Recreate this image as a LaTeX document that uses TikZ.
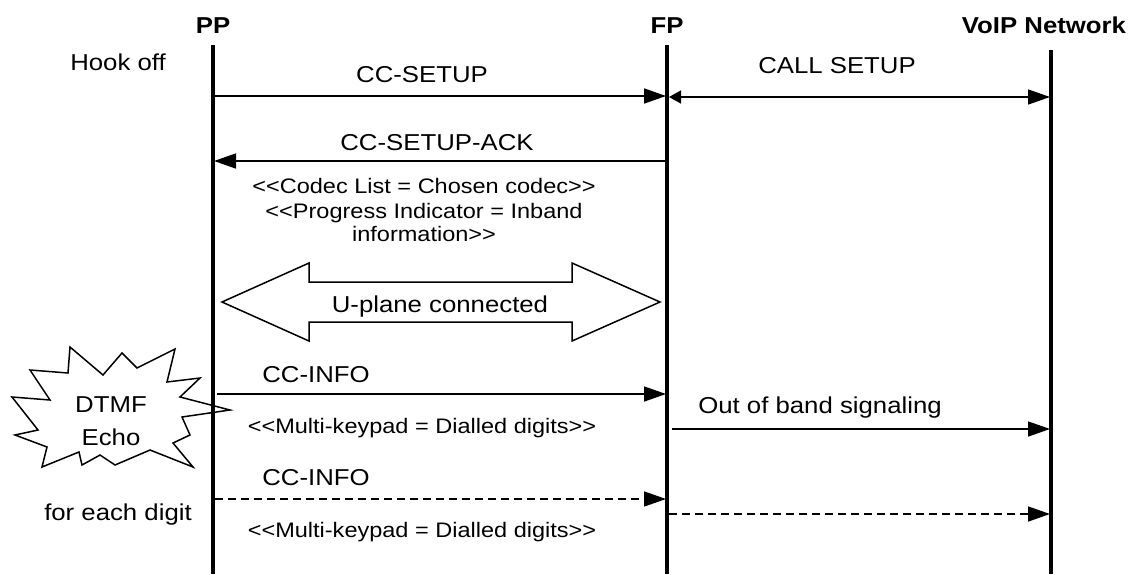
\documentclass[tikz,border=0pt]{standalone}
\usepackage{fontspec}
\setmainfont{Liberation Sans}[FakeStretch=1.12]
\usetikzlibrary{arrows.meta}
\begin{document}
\begin{tikzpicture}[x=1pt,y=-1pt,
  life/.style={line width=3.5pt},
  msg/.style={line width=1.6pt,-{Triangle[length=22pt,width=15pt]}},
  dmsg/.style={msg,dash pattern=on 8pt off 5pt},
  big/.style={font=\fontsize{23}{27}\selectfont,anchor=base,inner sep=0pt},
  small/.style={font=\fontsize{21}{25}\selectfont,anchor=base,inner sep=0pt},
  head/.style={font=\bfseries\fontsize{23}{27}\selectfont,anchor=base,inner sep=0pt},
  outline/.style={line width=1.5pt,fill=white,line join=miter}]
\useasboundingbox (0,0) rectangle (1138,574);

% DTMF echo starburst
\draw[outline] (70,347) -- (103,375) -- (122,353) -- (137,368) -- (175,349) -- (167,382)
  -- (200,378) -- (180,397) -- (230,410) -- (182,417) -- (190,435) -- (173,443)
  -- (193,467) -- (150,450) -- (115,465) -- (100,455) -- (82,465) -- (79,452)
  -- (42,467) -- (47,447) -- (15,435) -- (38,430) -- (12,397) -- (50,400)
  -- (30,370) -- (68,373) -- cycle;
\node[big] (dtmf) at (111,412) {DTMF};
\node[big] (echo) at (111,445) {Echo};

% lifelines
\coordinate (ppTop) at (213,45);   \coordinate (ppBot) at (213,574);
\coordinate (fpTop) at (667,45);   \coordinate (fpBot) at (667,574);
\coordinate (vnTop) at (1051,50);  \coordinate (vnBot) at (1051,574);
\draw[life] (ppTop) -- (ppBot);
\draw[life] (fpTop) -- (fpBot);
\draw[life] (vnTop) -- (vnBot);

% headers
\node[head] (pp) at (213,33) {PP};
\node[head] (fp) at (667,33) {FP};
\node[head] (vn) at (1044,33) {VoIP Network};

% left notes
\node[big] (hook) at (118,70) {Hook off};
\node[big] (each) at (118,520) {for each digit};

% CC-SETUP
\coordinate (s1) at (214,96); \coordinate (s2) at (666,96);
\draw[msg] (s1) -- (s2);
\node[big] (ccsetup) at (422,82) {CC-SETUP};

% CALL SETUP
\coordinate (c1) at (669,97); \coordinate (c2) at (1050,97);
\draw[line width=1.6pt,{Triangle[length=12pt,width=13pt]}-{Triangle[length=22pt,width=15pt]}] (c1) -- (c2);
\node[big] (callsetup) at (837,73) {CALL SETUP};

% CC-SETUP-ACK
\coordinate (a1) at (666,161); \coordinate (a2) at (214,161);
\draw[msg] (a1) -- (a2);
\node[big] (ack) at (437,150) {CC-SETUP-ACK};
\node[small] (codec) at (424,193) {<{}<Codec List = Chosen codec>{}>};
\node[small] (prog) at (424,218) {<{}<Progress Indicator = Inband};
\node[small] (info) at (424,241) {information>{}>};

% U-plane double arrow
\draw[outline] (222,302) -- (309,263) -- (309,282) -- (572,282) -- (572,263) -- (660,302)
  -- (572,341) -- (572,322) -- (309,322) -- (309,341) -- cycle;
\node[big] (uplane) at (440,312) {U-plane connected};

% CC-INFO
\coordinate (i1) at (217,394); \coordinate (i2) at (666,394);
\draw[msg] (i1) -- (i2);
\node[big] (ccinfo1) at (316,382) {CC-INFO};
\node[small] (mk1) at (422,433) {<{}<Multi-keypad = Dialled digits>{}>};

% Out of band
\coordinate (o1) at (672,429); \coordinate (o2) at (1050,429);
\draw[msg] (o1) -- (o2);
\node[big] (oob) at (820,413) {Out of band signaling};

% second CC-INFO (dashed)
\coordinate (d1) at (215,499); \coordinate (d2) at (666,499);
\draw[dmsg] (d1) -- (d2);
\node[big] (ccinfo2) at (316,485) {CC-INFO};
\node[small] (mk2) at (422,537) {<{}<Multi-keypad = Dialled digits>{}>};
\coordinate (e1) at (669,514); \coordinate (e2) at (1050,514);
\draw[dmsg] (e1) -- (e2);
\end{tikzpicture}
\end{document}
